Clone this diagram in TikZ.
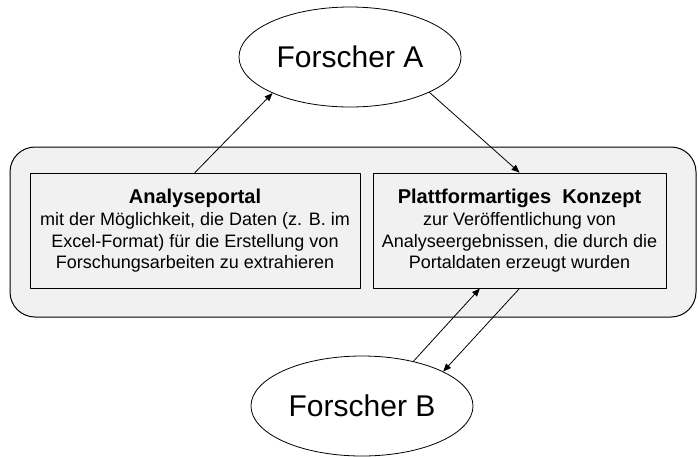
\documentclass[tikz,border=0pt]{standalone}
\usepackage{fontspec}
\setmainfont{Liberation Sans}
\usetikzlibrary{arrows, shapes}
\usetikzlibrary{calc}

\definecolor{boxgray}{RGB}{241,241,241}
\newcommand{\boxhead}[1]{{\fontsize{20}{24}\selectfont\bfseries #1}}

\begin{document}
\begin{tikzpicture}[line cap=round,line join=round,>=triangle 45,x=1pt,y=-1pt,
  person/.style={draw, ellipse, line width=0.8pt, minimum width=222pt, minimum height=100pt, inner sep=0pt, font=\fontsize{30}{36}\selectfont},
  part/.style={draw, line width=1pt, fill=boxgray, minimum height=115pt, inner sep=0pt, align=center, font=\fontsize{18}{21.5}\selectfont},
  flow/.style={->, line width=0.8pt}]
\useasboundingbox (0,0) rectangle (698,456);
% gemeinsamer Rahmen
\draw[line width=1pt, fill=boxgray, rounded corners=25pt] (10,147) rectangle (696,317);
\node[part, minimum width=330pt] (portal) at (195,230.5) {\boxhead{Analyseportal}\\[1pt] mit der Möglichkeit, die Daten (z. B. im\\ Excel-Format) für die Erstellung von\\ Forschungsarbeiten zu extrahieren};
\node[part, minimum width=293pt] (konzept) at (519.5,230.5) {\boxhead{Plattformartiges\ \ Konzept}\\[1pt] zur Veröffentlichung von\\ Analyseergebnissen, die durch die\\ Portaldaten erzeugt wurden};
% Forscher
\node[person] (forscherA) at (350,57) {Forscher A};
\node[person] (forscherB) at (362,406) {Forscher B};
% Pfeile
\draw[flow] (portal.north) -- (forscherA.205);
\draw[flow] (forscherA.336) -- (konzept.north);
\draw[flow] (forscherB.41) -- ($(konzept.south west)!0.365!(konzept.south east)$);
\draw[flow] (konzept.south) -- (forscherB.23);
\end{tikzpicture}
\end{document}
